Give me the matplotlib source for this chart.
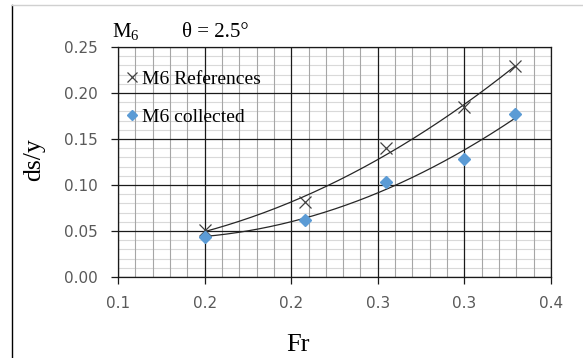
import numpy as np
import matplotlib
matplotlib.use("Agg")
import matplotlib.pyplot as plt
from matplotlib.ticker import FixedLocator, FixedFormatter, NullLocator
from matplotlib.lines import Line2D

plt.rcParams['mathtext.fontset'] = 'custom'
plt.rcParams['mathtext.rm'] = 'Liberation Serif'
plt.rcParams['mathtext.it'] = 'Liberation Serif'

# Data
fr_ref = [0.150, 0.208, 0.255, 0.300, 0.329]
ds_ref = [0.051, 0.082, 0.140, 0.185, 0.229]
fr_col = [0.150, 0.208, 0.255, 0.300, 0.329]
ds_col = [0.044, 0.062, 0.103, 0.128, 0.177]

x_ticks = [0.10, 0.15, 0.20, 0.25, 0.30, 0.35]
x_labels = ["0.1", "0.2", "0.2", "0.3", "0.3", "0.4"]
y_ticks = [0.00, 0.05, 0.10, 0.15, 0.20, 0.25]
y_labels = ["0.00", "0.05", "0.10", "0.15", "0.20", "0.25"]

fig = plt.figure(figsize=(5.83, 3.58), dpi=100)
ax = fig.add_axes([118/583, 1-277/358, (551-118)/583, (277-47)/358])

ax.set_xlim(0.10, 0.35)
ax.set_ylim(0.0, 0.25)

# grid lines (minor every 0.01, major every 0.05)
for i in range(0, 26):
    v = i * 0.01
    if i % 5:
        ax.axhline(v, color='#d9d9d9', linewidth=0.8, zorder=0.5)
for i in range(10, 36):
    v = i * 0.01
    if i % 5:
        ax.axvline(v, color='#a6a6a6', linewidth=0.8, zorder=0.6)
for v in y_ticks:
    ax.axhline(v, color='#1a1a1a', linewidth=0.9, zorder=0.7)
for v in x_ticks:
    ax.axvline(v, color='#1a1a1a', linewidth=0.9, zorder=0.7)

ax.xaxis.set_major_locator(FixedLocator(x_ticks))
ax.xaxis.set_major_formatter(FixedFormatter(x_labels))
ax.yaxis.set_major_locator(FixedLocator(y_ticks))
ax.yaxis.set_major_formatter(FixedFormatter(y_labels))
ax.xaxis.set_minor_locator(NullLocator())
ax.yaxis.set_minor_locator(NullLocator())
ax.tick_params(which='major', length=5, width=0.9, color='#1a1a1a', direction='out',
               labelsize=11, labelcolor='#595959')
ax.tick_params(axis='x', pad=9)
ax.tick_params(axis='y', pad=9.5)
for lab in ax.get_xticklabels() + ax.get_yticklabels():
    lab.set_fontfamily('DejaVu Sans')
for s in ax.spines.values():
    s.set_color('#1a1a1a')
    s.set_linewidth(0.9)

# trendlines (2nd order polynomial fits)
xx = np.linspace(min(fr_ref), max(fr_ref), 200)
p_ref = np.polyfit(fr_ref, ds_ref, 2)
p_col = np.polyfit(fr_col, ds_col, 2)
ax.plot(xx, np.polyval(p_ref, xx), color='#262626', linewidth=0.9, zorder=3)
ax.plot(xx, np.polyval(p_col, xx), color='#262626', linewidth=0.9, zorder=3)

# points
ax.plot(fr_ref, ds_ref, linestyle='none', marker='x', markersize=9, markeredgewidth=0.9,
        color='#404040', zorder=4, label='M6 References')
ax.plot(fr_col, ds_col, linestyle='none', marker='D', markersize=6.5,
        color='#5b9bd5', markeredgecolor='#5b9bd5', zorder=4, label='M6 collected')

leg = ax.legend(loc='upper left', bbox_to_anchor=(0.02, 0.898), frameon=False,
                prop={'family': 'Liberation Serif', 'size': 14},
                handlelength=0.55, handletextpad=0.25, labelspacing=1.05,
                borderaxespad=0.0, borderpad=0.0, markerscale=0.85)

fig.text(298/583, 1-351/358, 'Fr', family='Liberation Serif', fontsize=19,
         ha='center', va='baseline')
fig.text(34/583, 1-160/358, 'ds/y', family='Liberation Serif', fontsize=18.5,
         ha='center', va='center', rotation=90)

fig.text(112/583, 1-37/358, r'$\mathrm{M}_6$', fontsize=15, va='baseline', ha='left')
fig.text(182/583, 1-37/358, 'θ = 2.5°', family='Liberation Serif', fontsize=15,
         va='baseline', ha='left')

# outer frame lines
fig.add_artist(Line2D([12/583, 12/583], [0, 1-5/358], color='black', linewidth=1.0,
                      transform=fig.transFigure))
fig.add_artist(Line2D([12/583, 1], [1-5/358, 1-5/358], color='#d0d0d0', linewidth=1.0,
                      transform=fig.transFigure))

fig.savefig('out.png', dpi=100, facecolor='white')
